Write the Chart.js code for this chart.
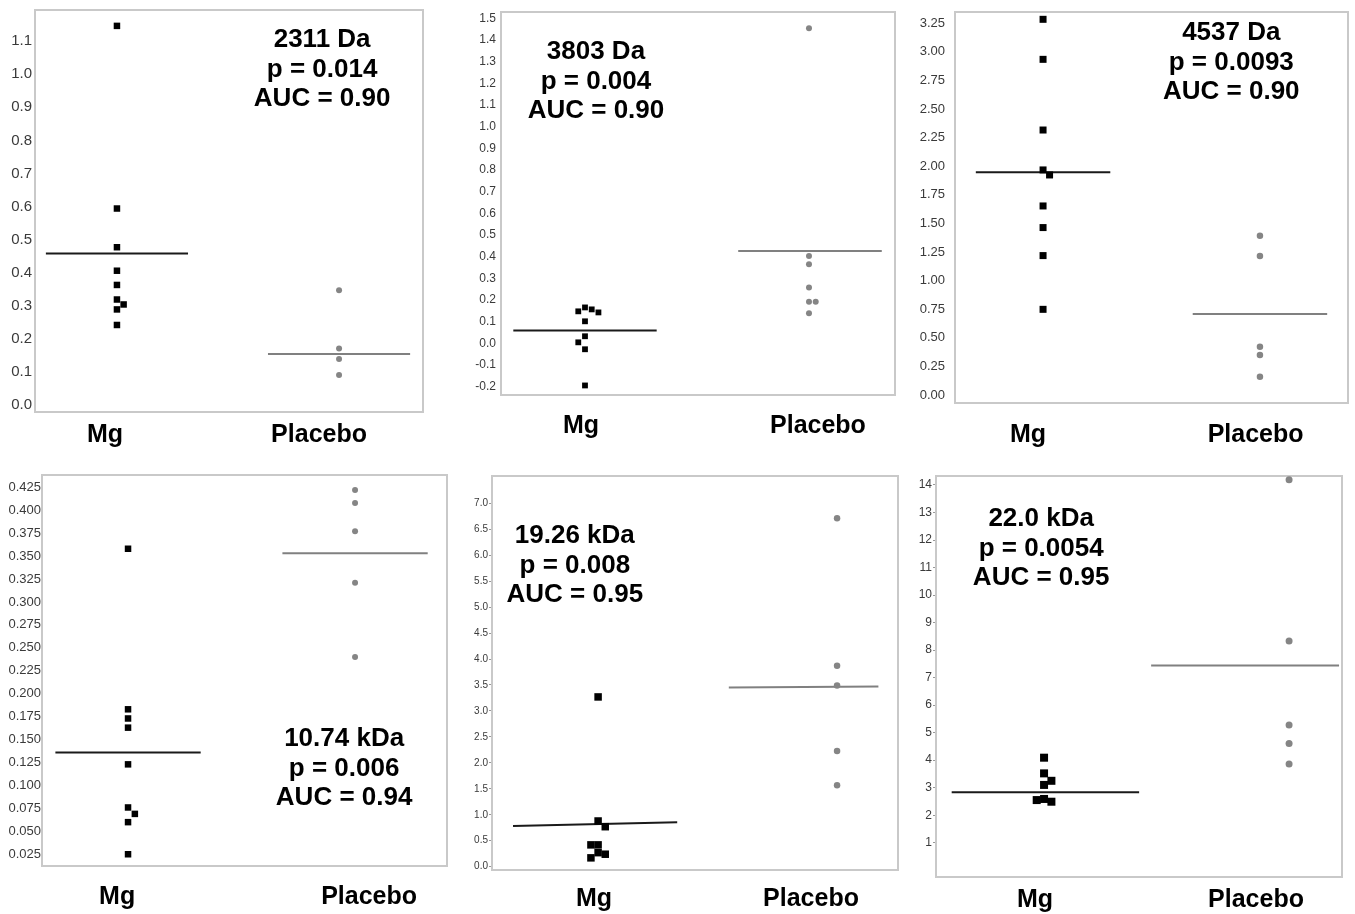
<!DOCTYPE html>
<html>
<head>
<meta charset="utf-8">
<script src="https://cdn.jsdelivr.net/npm/chart.js@4.4.1/dist/chart.umd.min.js"></script>
<style>
  html, body { margin: 0; padding: 0; background: #fff; }
  body { width: 1355px; height: 914px; position: relative; overflow: hidden; }
  canvas { position: absolute; }
</style>
</head>
<body>
<canvas id="c1"></canvas>
<canvas id="c2"></canvas>
<canvas id="c3"></canvas>
<canvas id="c4"></canvas>
<canvas id="c5"></canvas>
<canvas id="c6"></canvas>
<script>
// Six dot plots (Mg vs Placebo), one per protein peak.
// Squares = Mg, grey dots = Placebo, horizontal bars = group means.

const groups = ["Mg", "Placebo"];

// 2311 Da
const mg2311 = [1.146, 0.594, 0.477, 0.406, 0.363, 0.319, 0.304, 0.289, 0.242];
const mg2311Col = [0, 0, 0, 0, 0, 0, 1, 0, 0];
const pl2311 = [0.347, 0.171, 0.139, 0.091];
const mean2311 = [0.458, 0.154];
const ticks2311 = [0.0, 0.1, 0.2, 0.3, 0.4, 0.5, 0.6, 0.7, 0.8, 0.9, 1.0, 1.1];
const note2311 = ["2311 Da", "p = 0.014", "AUC = 0.90"];

// 3803 Da
const mg3803 = [0.166, 0.157, 0.148, 0.143, 0.102, 0.033, 0.005, -0.027, -0.194];
const mg3803Col = [0, 1, -1, 2, 0, 0, -1, 0, 0];
const pl3803 = [1.454, 0.403, 0.365, 0.258, 0.192, 0.192, 0.139];
const pl3803Col = [0, 0, 0, 0, 0, 1, 0];
const mean3803 = [0.060, 0.426];
const ticks3803 = [-0.2, -0.1, 0.0, 0.1, 0.2, 0.3, 0.4, 0.5, 0.6, 0.7, 0.8, 0.9, 1.0, 1.1, 1.2, 1.3, 1.4, 1.5];
const note3803 = ["3803 Da", "p = 0.004", "AUC = 0.90"];

// 4537 Da
const mg4537 = [3.285, 2.935, 2.317, 1.968, 1.924, 1.653, 1.464, 1.219, 0.749];
const mg4537Col = [0, 0, 0, 0, 1, 0, 0, 0, 0];
const pl4537 = [1.393, 1.215, 0.422, 0.349, 0.160];
const mean4537 = [1.947, 0.708];
const ticks4537 = [0, 0.25, 0.5, 0.75, 1.0, 1.25, 1.5, 1.75, 2.0, 2.25, 2.5, 2.75, 3.0, 3.25];
const note4537 = ["4537 Da", "p = 0.0093", "AUC = 0.90"];

// 10.74 kDa
const mg10740 = [0.358, 0.183, 0.173, 0.163, 0.123, 0.076, 0.069, 0.060, 0.025];
const mg10740Col = [0, 0, 0, 0, 0, 0, 1, 0, 0];
const pl10740 = [0.422, 0.408, 0.377, 0.321, 0.240];
const mean10740 = [0.136, 0.353];
const ticks10740 = [0.025, 0.05, 0.075, 0.1, 0.125, 0.15, 0.175, 0.2, 0.225, 0.25, 0.275, 0.3, 0.325, 0.35, 0.375, 0.4, 0.425];
const note10740 = ["10.74 kDa", "p = 0.006", "AUC = 0.94"];

// 19.26 kDa (mean bars are slightly tilted in the original)
const mg19260 = [3.27, 0.88, 0.77, 0.42, 0.42, 0.27, 0.24, 0.17];
const mg19260Col = [0, 0, 1, -1, 0, 0, 1, -1];
const pl19260 = [6.71, 3.87, 3.49, 2.23, 1.57];
const mgMean19260 = [0.785, 0.855];
const plMean19260 = [3.45, 3.47];
const ticks19260 = [0, 0.5, 1.0, 1.5, 2.0, 2.5, 3.0, 3.5, 4.0, 4.5, 5.0, 5.5, 6.0, 6.5, 7.0];
const note19260 = ["19.26 kDa", "p = 0.008", "AUC = 0.95"];

// 22.0 kDa
const mg22000 = [4.09, 3.52, 3.25, 3.10, 2.55, 2.59, 2.49];
const mg22000Col = [0, 0, 1, 0, -1, 0, 1];
const pl22000 = [14.19, 8.33, 5.28, 4.61, 3.86];
const mean22000 = [2.83, 7.44];
const ticks22000 = [1, 2, 3, 4, 5, 6, 7, 8, 9, 10, 11, 12, 13, 14];
const note22000 = ["22.0 kDa", "p = 0.0054", "AUC = 0.95"];

const FONT = "'Liberation Sans', Arial, Helvetica, sans-serif";
const Y_AXIS_W = 48, PAD_TOP = 6, PAD_RIGHT = 6, X_AXIS_H = 60;
const COL_W = 0.03; // side-by-side offset for overlapping points

const panels = [
  { id: "c1", box: [35, 10, 388, 402], y: [-0.021, 1.194], x: [0.631, 2.378],
    ticks: ticks2311, dec: 1, tickSize: 15, yPad: 3, tickLen: 0,
    mg: mg2311, mgCol: mg2311Col, pl: pl2311, plCol: null,
    mgMean: [mean2311[0], mean2311[0]], plMean: [mean2311[1], mean2311[1]],
    mgSpan: [-0.32, 0.32], plSpan: [-0.32, 0.32], labelAt: [0.946, 1.91], labelPad: 8,
    note: note2311, noteX: 0.74, noteY: 30, sq: 6.5, dot: 6 },
  { id: "c2", box: [501, 12, 394, 383], y: [-0.238, 1.529], x: [0.625, 2.384],
    ticks: ticks3803, dec: 1, tickSize: 12, yPad: 5, tickLen: 0,
    mg: mg3803, mgCol: mg3803Col, pl: pl3803, plCol: pl3803Col,
    mgMean: [mean3803[0], mean3803[0]], plMean: [mean3803[1], mean3803[1]],
    mgSpan: [-0.32, 0.32], plSpan: [-0.316, 0.325], labelAt: [0.982, 2.04], labelPad: 16,
    note: note3803, noteX: 0.241, noteY: 40, sq: 5.8, dot: 6 },
  { id: "c3", box: [955, 12, 393, 391], y: [-0.070, 3.349], x: [0.594, 2.406],
    ticks: ticks4537, dec: 2, tickSize: 13, yPad: 10, tickLen: 0,
    mg: mg4537, mgCol: mg4537Col, pl: pl4537, plCol: null,
    mgMean: [mean4537[0], mean4537[0]], plMean: [mean4537[1], mean4537[1]],
    mgSpan: [-0.31, 0.31], plSpan: [-0.31, 0.31], labelAt: [0.931, 1.98], labelPad: 17,
    note: note4537, noteX: 0.703, noteY: 21, sq: 7, dot: 6.5 },
  { id: "c4", box: [42, 475, 405, 391], y: [0.0122, 0.4384], x: [0.621, 2.405],
    ticks: ticks10740, dec: 3, tickSize: 13, yPad: 1, tickLen: 0,
    mg: mg10740, mgCol: mg10740Col, pl: pl10740, plCol: null,
    mgMean: [mean10740[0], mean10740[0]], plMean: [mean10740[1], mean10740[1]],
    mgSpan: [-0.32, 0.32], plSpan: [-0.32, 0.32], labelAt: [0.952, 2.062], labelPad: 16,
    note: note10740, noteX: 0.746, noteY: 264, sq: 6.5, dot: 6 },
  { id: "c5", box: [492, 476, 406, 394], y: [-0.064, 7.526], x: [0.556, 2.255],
    ticks: ticks19260, dec: 1, tickSize: 10, yPad: 1, tickLen: 3,
    mg: mg19260, mgCol: mg19260Col, pl: pl19260, plCol: null,
    mgMean: mgMean19260, plMean: plMean19260,
    mgSpan: [-0.356, 0.331], plSpan: [-0.453, 0.173], labelAt: [0.983, 1.891], labelPad: 14,
    note: note19260, noteX: 0.204, noteY: 60, sq: 7.5, dot: 6.5 },
  { id: "c6", box: [936, 476, 406, 401], y: [-0.246, 14.327], x: [0.559, 2.216],
    ticks: ticks22000, dec: 0, tickSize: 12, yPad: 1, tickLen: 3,
    mg: mg22000, mgCol: mg22000Col, pl: pl22000, plCol: null,
    mgMean: [mean22000[0], mean22000[0]], plMean: [mean22000[1], mean22000[1]],
    mgSpan: [-0.377, 0.388], plSpan: [-0.563, 0.204], labelAt: [0.963, 1.865], labelPad: 8,
    note: note22000, noteX: 0.259, noteY: 43, sq: 8, dot: 7 },
];

const frame = {
  id: "frame",
  beforeDatasetsDraw(chart) {
    const { ctx, chartArea: a } = chart;
    ctx.save();
    ctx.strokeStyle = "#c9c9c9";
    ctx.lineWidth = 2;
    ctx.strokeRect(a.left, a.top, a.right - a.left, a.bottom - a.top);
    ctx.restore();
  },
};

const noteText = {
  id: "noteText",
  afterDraw(chart, args, opts) {
    const { ctx, chartArea: a } = chart;
    ctx.save();
    ctx.font = "bold 26px " + FONT;
    ctx.fillStyle = "#000";
    ctx.textAlign = "center";
    ctx.textBaseline = "middle";
    const cx = a.left + opts.fx * (a.right - a.left);
    opts.lines.forEach((t, i) => ctx.fillText(t, cx, a.top + opts.dy + i * 29.5));
    ctx.restore();
  },
};

function points(vals, cols, g) {
  return vals.map((v, i) => ({ x: g + (cols ? cols[i] : 0) * COL_W, y: v }));
}

function bar(g, span, m) {
  return [{ x: g + span[0], y: m[0] }, { x: g + span[1], y: m[1] }];
}

panels.forEach((p) => {
  const [bl, bt, bw, bh] = p.box;
  const cv = document.getElementById(p.id);
  cv.width = bw + Y_AXIS_W + PAD_RIGHT;
  cv.height = bh + PAD_TOP + X_AXIS_H;
  cv.style.left = bl - Y_AXIS_W + "px";
  cv.style.top = bt - PAD_TOP + "px";

  new Chart(cv, {
    type: "scatter",
    data: {
      datasets: [
        { data: points(p.mg, p.mgCol, 1), pointStyle: "rect", pointRadius: p.sq / Math.SQRT2,
          backgroundColor: "#000", borderWidth: 0, clip: false },
        { data: points(p.pl, p.plCol, 2), pointStyle: "circle", pointRadius: p.dot / 2,
          backgroundColor: "#858585", borderWidth: 0, clip: false },
        { data: bar(1, p.mgSpan, p.mgMean), showLine: true, borderColor: "#1a1a1a",
          borderWidth: 2, pointRadius: 0, clip: false },
        { data: bar(2, p.plSpan, p.plMean), showLine: true, borderColor: "#808080",
          borderWidth: 2, pointRadius: 0, clip: false },
      ],
    },
    options: {
      responsive: false,
      animation: false,
      events: [],
      layout: { padding: { top: PAD_TOP, right: PAD_RIGHT, left: 0, bottom: 0 } },
      plugins: {
        legend: { display: false },
        tooltip: { enabled: false },
        noteText: { lines: p.note, fx: p.noteX, dy: p.noteY },
      },
      scales: {
        x: {
          type: "linear",
          min: p.x[0],
          max: p.x[1],
          grid: { display: false, drawTicks: false },
          border: { display: false },
          afterBuildTicks: (s) => { s.ticks = p.labelAt.map((v) => ({ value: v })); },
          afterFit: (s) => { s.height = X_AXIS_H; s.paddingLeft = 0; s.paddingRight = 0; },
          ticks: {
            autoSkip: false,
            maxRotation: 0,
            padding: p.labelPad,
            color: "#000",
            font: { family: FONT, size: 25, weight: "bold" },
            callback: (v, i) => groups[i],
          },
        },
        y: {
          type: "linear",
          min: p.y[0],
          max: p.y[1],
          grid: {
            display: p.tickLen > 0,
            drawOnChartArea: false,
            drawTicks: p.tickLen > 0,
            tickLength: p.tickLen,
            color: "#999",
          },
          border: { display: false },
          afterBuildTicks: (s) => { s.ticks = p.ticks.map((v) => ({ value: v })); },
          afterFit: (s) => { s.width = Y_AXIS_W; s.paddingTop = 0; s.paddingBottom = 0; },
          ticks: {
            padding: p.yPad,
            color: "#3a3a3a",
            font: { family: FONT, size: p.tickSize },
            callback: (v) => Number(v).toFixed(p.dec),
          },
        },
      },
    },
    plugins: [frame, noteText],
  });
});
</script>
</body>
</html>
